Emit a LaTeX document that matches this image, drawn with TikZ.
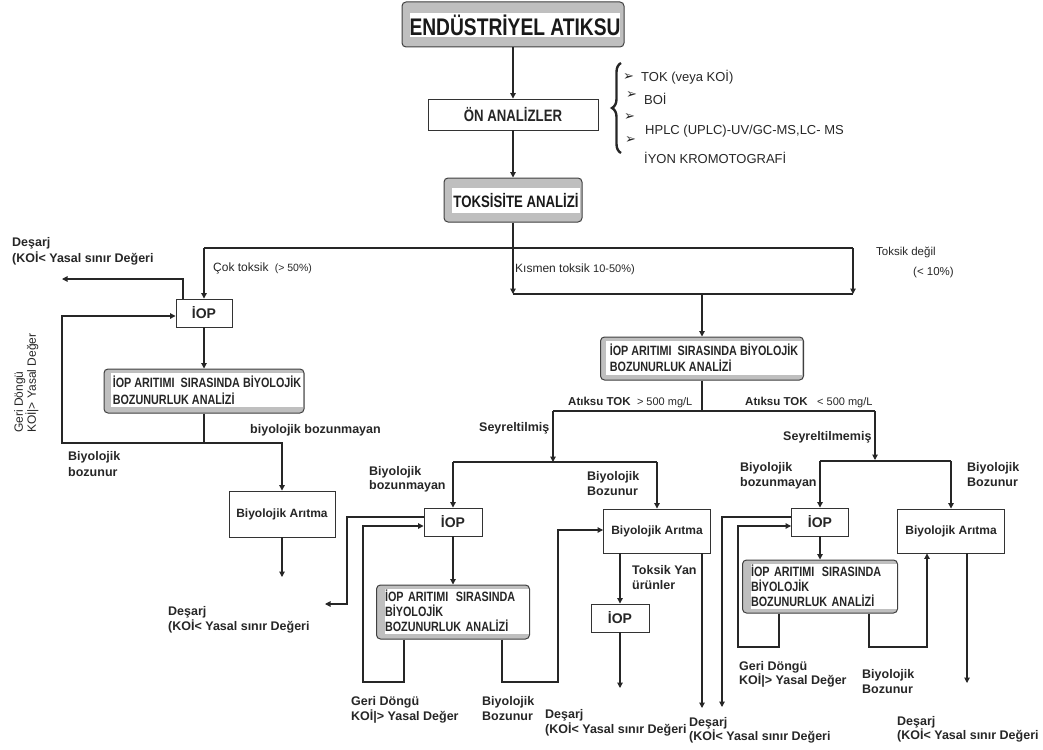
\documentclass[tikz,border=0pt]{standalone}
\usepackage{fontspec}
\setmainfont{Liberation Sans}
\newfontfamily\titlefont{Liberation Sans}[FakeStretch=0.8]
\newfontfamily\dejavu{DejaVu Sans}
\usetikzlibrary{arrows.meta,decorations.pathreplacing}
\hyphenpenalty=10000
\begin{document}
\begin{tikzpicture}[x=1pt,y=-1pt,
  ln/.style={line width=1.1pt, draw=black!85},
  arr/.style={ln,-{Triangle[length=5.5pt,width=5.5pt]}},
  wbox/.style={draw=black!80,line width=0.9pt,fill=white,inner sep=0pt,text=black!85,font=\bfseries\fontsize{12}{14}\selectfont},
  gbox/.style={draw=black!75,line width=1pt,fill=gray!50,rounded corners=4pt,inner sep=0pt},
  ibox/.style={fill=white,inner sep=0pt,align=left,text=black!85},
  lb/.style={anchor=west,inner sep=0pt,text height=8.5pt,text depth=2.5pt,text=black!85,font=\bfseries\fontsize{12.5}{15}\selectfont},
  lr/.style={anchor=west,inner sep=0pt,text height=8pt,text depth=2.5pt,text=black!85,font=\fontsize{11.5}{13}\selectfont},
  bul/.style={anchor=west,inner sep=0pt,text=black!85,font=\dejavu\fontsize{13}{13}\selectfont},
]
\useasboundingbox (0,0) rectangle (1043,749);

% ---------- top ----------
\node[gbox,minimum width=222pt,minimum height=45pt] (end) at (513,24.5) {};
\node[fill=white,inner sep=0pt,minimum width=206pt,minimum height=24pt,text=black!90,font=\titlefont\bfseries\fontsize{24}{24}\selectfont] (endt) at (515,25) {ENDÜSTRİYEL ATIKSU};
\node[wbox,minimum width=170pt,minimum height=31pt,font=\titlefont\bfseries\fontsize{16.5}{18}\selectfont] (onan) at (513,114.5) {ÖN ANALİZLER};
\node[gbox,minimum width=138pt,minimum height=44pt] (toks) at (513,200) {};
\node[fill=white,inner sep=0pt,minimum width=128pt,minimum height=25pt,text=black!90,font=\titlefont\bfseries\fontsize{16.5}{18}\selectfont] (tokst) at (516,200.5) {TOKSİSİTE ANALİZİ};

\draw[arr] (end.south) -- (onan.north);
\draw[arr] (onan.south) -- (toks.north);

\draw[line width=2.4pt,black!85,decorate,decoration={brace,amplitude=9pt}] (621,153) -- (621,63);
\node[bul] (bu1) at (623,77) {➢};
\node[bul] (bu2) at (626,95) {➢};
\node[bul] (bu3) at (624,117) {➢};
\node[bul] (bu4) at (625,140) {➢};
\node[lr,font=\fontsize{13}{15}\selectfont] (t1) at (641,79) {TOK (veya KOİ)};
\node[lr,font=\fontsize{13}{15}\selectfont] (t2) at (644,102) {BOİ};
\node[lr,font=\fontsize{13}{15}\selectfont] (t3) at (645,132) {HPLC (UPLC)-UV/GC-MS,LC- MS};
\node[lr,font=\fontsize{13}{15}\selectfont] (t4) at (644,161) {İYON KROMOTOGRAFİ};

% ---------- toxicity split ----------
\coordinate (h1l) at (204,248);
\coordinate (h1r) at (853,248);
\coordinate (h2l) at (513,294);
\coordinate (h2r) at (853,294);
\draw[ln] (h1l) -- (h1r);
\draw[ln] (h2l) -- (h2r);
\draw[arr] (toks.south) -- (h2l);
\draw[arr] (h1r) -- (h2r);

\node[lr,font=\fontsize{12}{13}\selectfont] (ct) at (213,269) {Çok toksik {\fontsize{10.5}{10}\selectfont\ (> 50\%)}};
\node[lr,font=\fontsize{12}{13}\selectfont] (kt) at (515,270) {Kısmen toksik {\fontsize{11}{10}\selectfont 10-50\%)}};
\node[lr] (td) at (876,253) {Toksik değil};
\node[lr] (td2) at (913,273) {(< 10\%)};

% ---------- left branch ----------
\node[wbox,minimum width=56pt,minimum height=28pt,font=\bfseries\fontsize{14}{14}\selectfont] (iop1) at (204,313) {İOP};
\draw[arr] (h1l) -- (iop1.north);
\node[gbox,minimum width=200pt,minimum height=44pt] (box1) at (204,391) {};
\node[ibox,minimum width=192pt,minimum height=34pt,font=\titlefont\bfseries\fontsize{13.5}{17}\selectfont] (box1t) at (207,390) {İOP ARITIMI\kern3pt\ SIRASINDA BİYOLOJİK\\BOZUNURLUK ANALİZİ};
\draw[arr] (iop1.south) -- (box1.north);

\coordinate (d1) at (62,279);
\draw[arr] ([xshift=-21pt]iop1.north) |- (d1);
\node[lb] (dl1a) at (12,243) {Deşarj};
\node[lb] (dl1b) at (12,259) {(KOİ< Yasal sınır Değeri};

\coordinate (c1) at (204,443);
\coordinate (c1l) at (62,443);
\draw[arr] (box1.south) |- (c1l) |- ([yshift=-3pt]iop1.west);
\node[wbox,minimum width=106pt,minimum height=46pt] (ba1) at (282,514) {Biyolojik Arıtma};
\draw[arr] (c1) -| (ba1.north);
\coordinate (e1) at (282,577);
\draw[arr] (ba1.south) -- (e1);

\node[lb] (bb1) at (250,430) {biyolojik bozunmayan};
\node[lb] (bz1a) at (68,457) {Biyolojik};
\node[lb] (bz1b) at (68,473) {bozunur};
\node[lr,rotate=90,font=\fontsize{12}{13}\selectfont] (gd1a) at (20,433) {Geri Döngü};
\node[lr,rotate=90,font=\fontsize{12}{13}\selectfont] (gd1b) at (33,433) {KOİ|> Yasal Değer};

% ---------- middle branch ----------
\node[gbox,minimum width=203pt,minimum height=43pt] (box2) at (702,358.5) {};
\node[ibox,minimum width=196pt,minimum height=34pt,font=\titlefont\bfseries\fontsize{13.5}{15.5}\selectfont] (box2t) at (704,358) {İOP ARITIMI\kern3pt\ SIRASINDA BİYOLOJİK\\BOZUNURLUK ANALİZİ};
\draw[arr] (box2.north |- h2l) -- (box2.north);

\coordinate (m1) at (702,411);
\coordinate (m1l) at (553,411);
\coordinate (m1r) at (875,411);
\draw[ln] (box2.south) -- (m1);
\draw[ln] (m1l) -- (m1r);
\node[lb,font=\bfseries\fontsize{11.5}{13}\selectfont] (at1) at (568,402) {Atıksu TOK\ \ {\mdseries\fontsize{11}{12}\selectfont > 500 mg/L}};
\node[lb,font=\bfseries\fontsize{11.5}{13}\selectfont] (at2) at (745,402) {Atıksu TOK\ \ \ {\mdseries\fontsize{11}{12}\selectfont < 500 mg/L}};
\node[lb] (sy1) at (479,428) {Seyreltilmiş};
\node[lb] (sy2) at (783,437) {Seyreltilmemiş};

\coordinate (s1) at (553,462);
\coordinate (s1l) at (453,462);
\coordinate (s1r) at (657,462);
\draw[arr] (m1l) -- (s1);
\draw[ln] (s1l) -- (s1r);

\node[wbox,minimum width=58pt,minimum height=28pt,font=\bfseries\fontsize{14}{14}\selectfont] (iop2) at (453,522) {İOP};
\node[wbox,minimum width=107pt,minimum height=44pt] (ba2) at (657,531) {Biyolojik Arıtma};
\draw[arr] (s1l) -- (iop2.north);
\draw[arr] (s1r) -- (ba2.north);

\node[gbox,minimum width=153pt,minimum height=54pt] (box3) at (453,612) {};
\node[ibox,minimum width=144pt,minimum height=45pt,text width=144pt,font=\titlefont\bfseries\fontsize{13.5}{15}\selectfont] (box3t) at (457,611) {İOP ARITIMI\kern3pt\ SIRASINDA\\BİYOLOJİK\\BOZUNURLUK ANALİZİ};
\draw[arr] (iop2.south) -- (box3.north);

\coordinate (d2b) at (347,604);
\coordinate (d2) at (325,604);
\draw[arr] ([yshift=5pt]iop2.west) -| (d2b) -- (d2);
\coordinate (l2) at (363,682);
\draw[arr] ([xshift=-49pt]box3.south) |- (l2) |- ([yshift=-4pt]iop2.west);
\coordinate (r2) at (558,682);
\draw[arr] ([xshift=49pt]box3.south) |- (r2) |- ([yshift=1pt]ba2.west);

\node[wbox,minimum width=58pt,minimum height=28pt,font=\bfseries\fontsize{14}{14}\selectfont] (iop3) at (620,618) {İOP};
\draw[arr] (iop3.north |- ba2.south) -- (iop3.north);
\coordinate (e3) at (620,688);
\draw[arr] (iop3.south) -- (e3);
\coordinate (e4) at (702,708);
\draw[arr] (e4 |- ba2.south) -- (e4);

\node[lb] (bm2a) at (369,472) {Biyolojik};
\node[lb] (bm2b) at (369,486) {bozunmayan};
\node[lb] (bz2a) at (587,477) {Biyolojik};
\node[lb] (bz2b) at (587,492) {Bozunur};
\node[lb] (ty1) at (632,571) {Toksik Yan};
\node[lb] (ty2) at (632,586) {ürünler};
\node[lb] (dl2a) at (168,612) {Deşarj};
\node[lb] (dl2b) at (168,627) {(KOİ< Yasal sınır Değeri};
\node[lb] (gd2a) at (351,702) {Geri Döngü};
\node[lb] (gd2b) at (351,717) {KOİ|> Yasal Değer};
\node[lb] (bz3a) at (482,702) {Biyolojik};
\node[lb] (bz3b) at (482,717) {Bozunur};
\node[lb] (dl3a) at (545,715) {Deşarj};
\node[lb] (dl3b) at (545,730) {(KOİ< Yasal sınır Değeri};

% ---------- right branch ----------
\coordinate (s2) at (875,460);
\coordinate (s2l) at (820,461);
\coordinate (s2r) at (951,461);
\draw[arr] (m1r) -- (s2);
\draw[ln] (s2l) -- (s2r);

\node[wbox,minimum width=57pt,minimum height=28pt,font=\bfseries\fontsize{14}{14}\selectfont] (iop4) at (820,522) {İOP};
\node[wbox,minimum width=107pt,minimum height=44pt] (ba3) at (951,531) {Biyolojik Arıtma};
\draw[arr] (s2l) -- (iop4.north);
\draw[arr] (s2r) -- (ba3.north);

\node[gbox,minimum width=155pt,minimum height=53pt] (box4) at (820,586.5) {};
\node[ibox,minimum width=146pt,minimum height=45pt,text width=146pt,font=\titlefont\bfseries\fontsize{13.5}{15}\selectfont] (box4t) at (824,586) {İOP ARITIMI\kern3pt\ SIRASINDA\\BİYOLOJİK\\BOZUNURLUK ANALİZİ};
\draw[arr] (iop4.south) -- (box4.north);

\coordinate (e5) at (722,707);
\draw[arr] ([yshift=5pt]iop4.west) -| (e5);
\coordinate (l4) at (738,647);
\draw[arr] ([xshift=-41pt]box4.south) |- (l4) |- ([yshift=-4pt]iop4.west);
\coordinate (r4) at (927,647);
\draw[arr] ([xshift=49pt]box4.south) |- (r4) -- (r4 |- ba3.south);
\coordinate (e6) at (967,683);
\draw[arr] (e6 |- ba3.south) -- (e6);

\node[lb] (bm4a) at (740,468) {Biyolojik};
\node[lb] (bm4b) at (740,483) {bozunmayan};
\node[lb] (bz4a) at (967,468) {Biyolojik};
\node[lb] (bz4b) at (967,483) {Bozunur};
\node[lb] (gd4a) at (739,667) {Geri Döngü};
\node[lb] (gd4b) at (739,681) {KOİ|> Yasal Değer};
\node[lb] (bz5a) at (862,675) {Biyolojik};
\node[lb] (bz5b) at (862,690) {Bozunur};
\node[lb] (dl4a) at (689,723) {Deşarj};
\node[lb] (dl4b) at (689,737) {(KOİ< Yasal sınır Değeri};
\node[lb] (dl5a) at (897,722) {Deşarj};
\node[lb] (dl5b) at (897,736) {(KOİ< Yasal sınır Değeri};
\end{tikzpicture}
\end{document}
